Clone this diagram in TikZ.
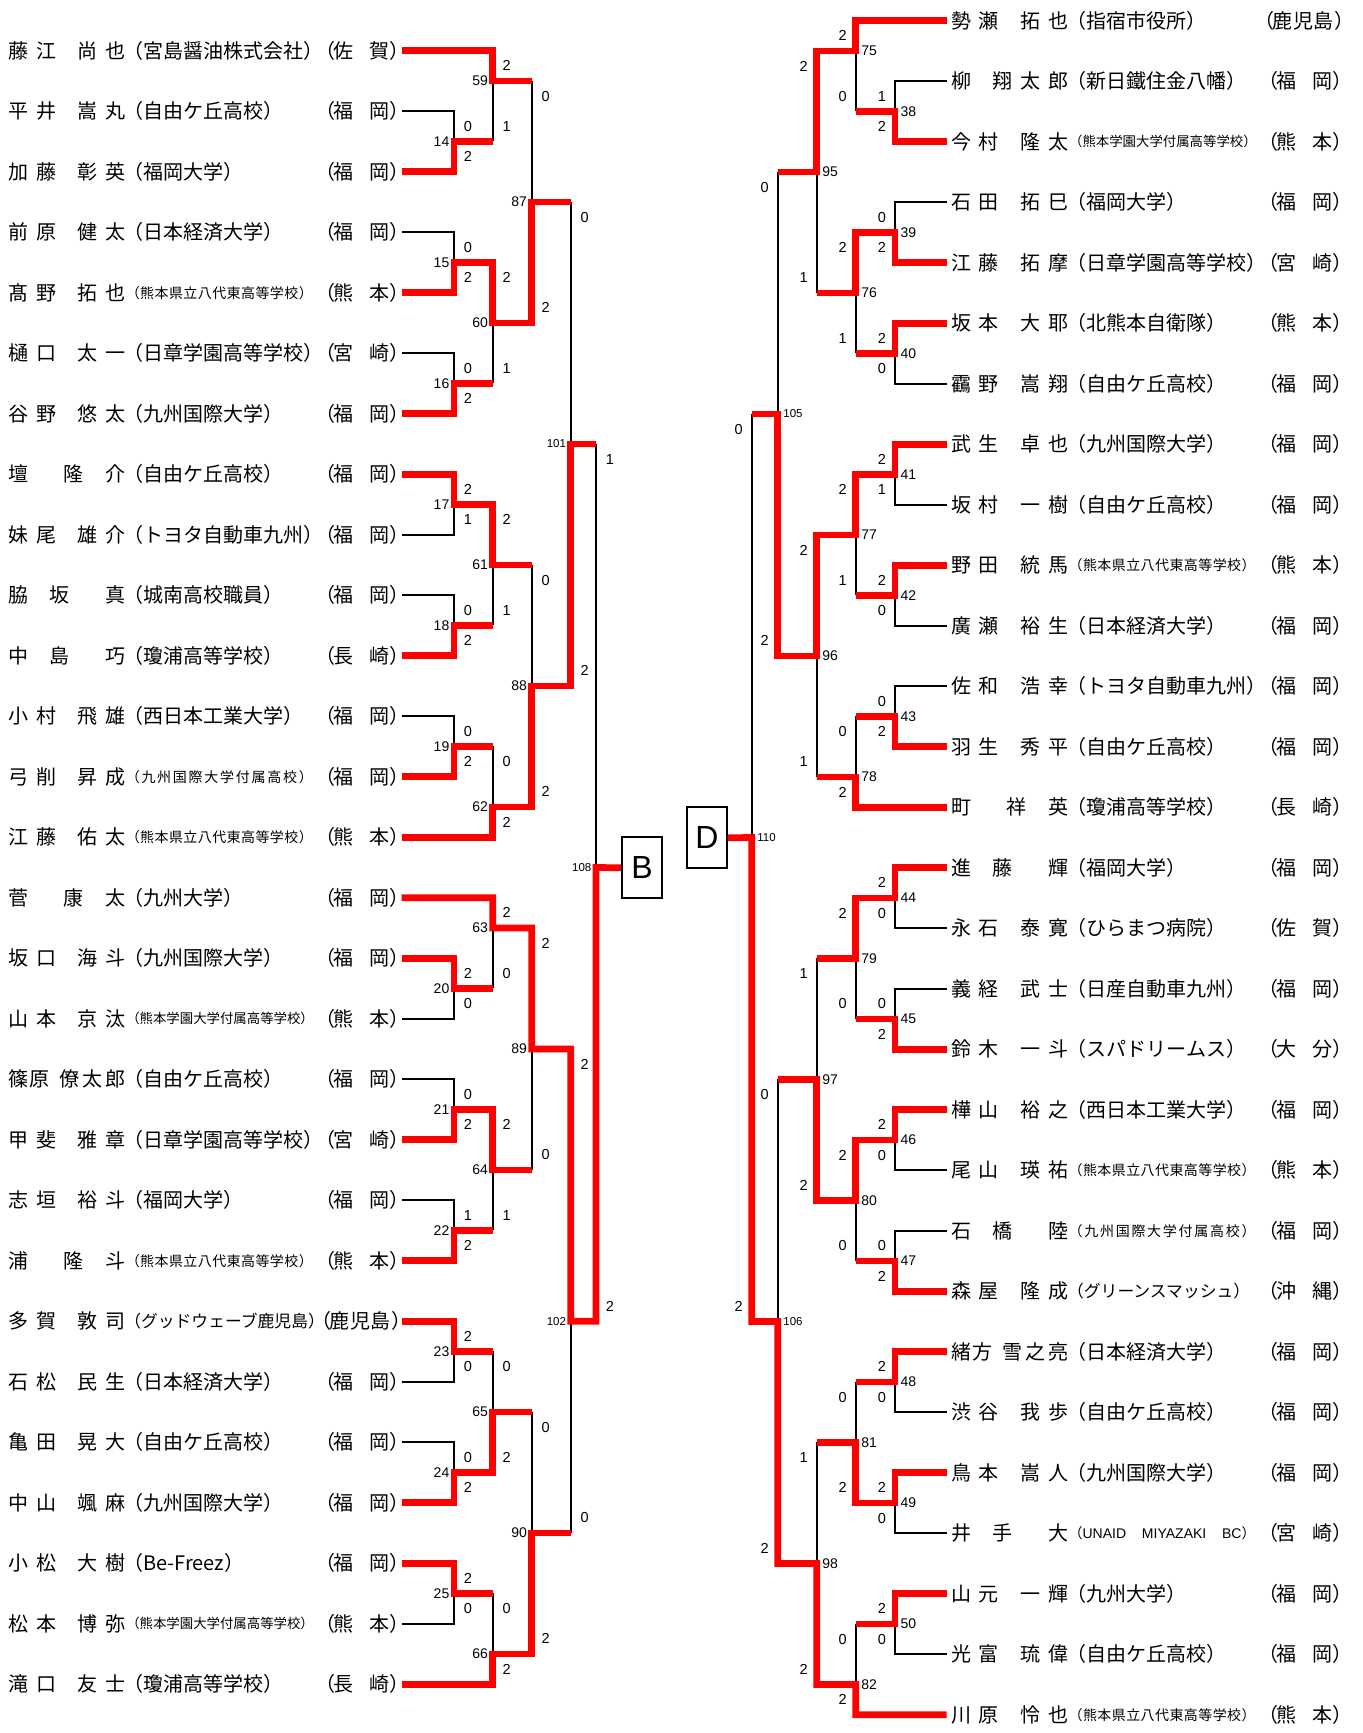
\documentclass[tikz,border=0pt]{standalone}
\usepackage{fontspec}
\setmainfont{Noto Sans CJK JP}
\newfontfamily\numfont{Liberation Sans}
\usetikzlibrary{positioning}

\newlength{\nmunit}\setlength{\nmunit}{13.86pt}
\newcommand{\yl}[1]{50.7+60.5*(#1)}
\newcommand{\yr}[1]{20.7+60.5*(#1)}
% name characters at fixed half-width steps
\newcommand{\ch}[2]{\rlap{\hskip#1\nmunit #2}}
\newcommand{\nm}[4]{\ch{0}{#1}\ch{2}{#2}\ch{5}{#3}\ch{7}{#4}}
\ExplSyntaxOn
\NewDocumentCommand{\spreadbox}{m m}{\makebox[#1][s]{\tl_map_inline:nn {#2}{##1\hfil}\unskip}}
\ExplSyntaxOff
\newcommand{\af}[1]{\rlap{\hskip115pt #1}}
\newcommand{\afm}[1]{\rlap{\hskip116pt\raisebox{1.1pt}{\fontsize{16.8}{17}\selectfont #1}}}
\newcommand{\afs}[1]{\rlap{\hskip117.5pt\raisebox{2.3pt}{\fontsize{14}{14}\selectfont\spreadbox{187pt}{#1}}}}
\newcommand{\aft}[1]{\rlap{\hskip118pt\raisebox{2.5pt}{\fontsize{13.4}{14}\selectfont\spreadbox{185pt}{#1}}}}
\newcommand{\afu}{\rlap{\hskip117.5pt\raisebox{2.3pt}{\fontsize{14}{14}\selectfont\makebox[187pt][s]{（{\numfont UNAID}\hfil{\numfont MIYAZAKI}\hfil{\numfont BC}）}}}}
\newcommand{\prf}[2]{\rlap{\hskip307pt（}\rlap{\hskip325pt #1}\rlap{\hskip361pt #2}\rlap{\hskip381pt）}}
\newcommand{\prfk}{\rlap{\hskip303pt（}\rlap{\hskip321.5pt 鹿}\rlap{\hskip342pt 児}\rlap{\hskip362.5pt 島}\rlap{\hskip383pt）}}
\newcommand{\lp}[3]{\hbox to 393.2pt{#1#2#3\hfil}}
\newcommand{\rp}[3]{\hbox to 412pt{\hskip4.2pt#1#2#3\hfil}}

\begin{document}
\begin{tikzpicture}[
    x=1pt, y=-1pt,
    win/.style={draw=red, line width=6.7pt, line join=miter},
    lose/.style={draw=black, line width=2.4pt},
    pl/.style={inner sep=0pt, font=\fontsize{20}{20}\selectfont, text height=17.6pt, text depth=2.4pt},
    score/.style={inner sep=0pt, font=\numfont\fontsize{14.5}{14.5}\selectfont},
    mlab/.style={inner sep=0pt, font=\numfont\fontsize{14}{14}\selectfont},
    mlabs/.style={inner sep=0pt, font=\numfont\fontsize{11.5}{11.5}\selectfont},
    blockbox/.style={draw, line width=2.2pt, minimum width=40pt, minimum height=61pt, inner sep=0pt, font=\numfont\fontsize{32}{32}\selectfont}
  ]
  \useasboundingbox (0,0) rectangle (1363,1733);

  % left players
  \node[pl, anchor=east] (pL0) at (401.7,{\yl{0}}) {\lp{\nm{藤}{江}{尚}{也}}{\af{（宮島醤油株式会社）}}{\prf{佐}{賀}}};
  \node[pl, anchor=east] (pL1) at (401.7,{\yl{1}}) {\lp{\nm{平}{井}{嵩}{丸}}{\af{（自由ケ丘高校）}}{\prf{福}{岡}}};
  \node[pl, anchor=east] (pL2) at (401.7,{\yl{2}}) {\lp{\nm{加}{藤}{彰}{英}}{\af{（福岡大学）}}{\prf{福}{岡}}};
  \node[pl, anchor=east] (pL3) at (401.7,{\yl{3}}) {\lp{\nm{前}{原}{健}{太}}{\af{（日本経済大学）}}{\prf{福}{岡}}};
  \node[pl, anchor=east] (pL4) at (401.7,{\yl{4}}) {\lp{\nm{髙}{野}{拓}{也}}{\afs{（熊本県立八代東高等学校）}}{\prf{熊}{本}}};
  \node[pl, anchor=east] (pL5) at (401.7,{\yl{5}}) {\lp{\nm{樋}{口}{太}{一}}{\af{（日章学園高等学校）}}{\prf{宮}{崎}}};
  \node[pl, anchor=east] (pL6) at (401.7,{\yl{6}}) {\lp{\nm{谷}{野}{悠}{太}}{\af{（九州国際大学）}}{\prf{福}{岡}}};
  \node[pl, anchor=east] (pL7) at (401.7,{\yl{7}}) {\lp{\ch{0}{壇}\ch{4}{隆}\ch{7}{介}}{\af{（自由ケ丘高校）}}{\prf{福}{岡}}};
  \node[pl, anchor=east] (pL8) at (401.7,{\yl{8}}) {\lp{\nm{妹}{尾}{雄}{介}}{\af{（トヨタ自動車九州）}}{\prf{福}{岡}}};
  \node[pl, anchor=east] (pL9) at (401.7,{\yl{9}}) {\lp{\ch{0}{脇}\ch{3}{坂}\ch{7}{真}}{\af{（城南高校職員）}}{\prf{福}{岡}}};
  \node[pl, anchor=east] (pL10) at (401.7,{\yl{10}}) {\lp{\ch{0}{中}\ch{3}{島}\ch{7}{巧}}{\af{（瓊浦高等学校）}}{\prf{長}{崎}}};
  \node[pl, anchor=east] (pL11) at (401.7,{\yl{11}}) {\lp{\nm{小}{村}{飛}{雄}}{\af{（西日本工業大学）}}{\prf{福}{岡}}};
  \node[pl, anchor=east] (pL12) at (401.7,{\yl{12}}) {\lp{\nm{弓}{削}{昇}{成}}{\afs{（九州国際大学付属高校）}}{\prf{福}{岡}}};
  \node[pl, anchor=east] (pL13) at (401.7,{\yl{13}}) {\lp{\nm{江}{藤}{佑}{太}}{\afs{（熊本県立八代東高等学校）}}{\prf{熊}{本}}};
  \node[pl, anchor=east] (pL14) at (401.7,{\yl{14}}) {\lp{\ch{0}{菅}\ch{4}{康}\ch{7}{太}}{\af{（九州大学）}}{\prf{福}{岡}}};
  \node[pl, anchor=east] (pL15) at (401.7,{\yl{15}}) {\lp{\nm{坂}{口}{海}{斗}}{\af{（九州国際大学）}}{\prf{福}{岡}}};
  \node[pl, anchor=east] (pL16) at (401.7,{\yl{16}}) {\lp{\nm{山}{本}{京}{汰}}{\aft{（熊本学園大学付属高等学校）}}{\prf{熊}{本}}};
  \node[pl, anchor=east] (pL17) at (401.7,{\yl{17}}) {\lp{\ch{0}{篠}\ch{1.55}{原}\ch{3.7}{僚}\ch{5.35}{太}\ch{7}{郎}}{\af{（自由ケ丘高校）}}{\prf{福}{岡}}};
  \node[pl, anchor=east] (pL18) at (401.7,{\yl{18}}) {\lp{\nm{甲}{斐}{雅}{章}}{\af{（日章学園高等学校）}}{\prf{宮}{崎}}};
  \node[pl, anchor=east] (pL19) at (401.7,{\yl{19}}) {\lp{\nm{志}{垣}{裕}{斗}}{\af{（福岡大学）}}{\prf{福}{岡}}};
  \node[pl, anchor=east] (pL20) at (401.7,{\yl{20}}) {\lp{\ch{0}{浦}\ch{4}{隆}\ch{7}{斗}}{\afs{（熊本県立八代東高等学校）}}{\prf{熊}{本}}};
  \node[pl, anchor=east] (pL21) at (401.7,{\yl{21}}) {\lp{\nm{多}{賀}{敦}{司}}{\afm{（グッドウェーブ鹿児島）}}{\prfk}};
  \node[pl, anchor=east] (pL22) at (401.7,{\yl{22}}) {\lp{\nm{石}{松}{民}{生}}{\af{（日本経済大学）}}{\prf{福}{岡}}};
  \node[pl, anchor=east] (pL23) at (401.7,{\yl{23}}) {\lp{\nm{亀}{田}{晃}{大}}{\af{（自由ケ丘高校）}}{\prf{福}{岡}}};
  \node[pl, anchor=east] (pL24) at (401.7,{\yl{24}}) {\lp{\nm{中}{山}{颯}{麻}}{\af{（九州国際大学）}}{\prf{福}{岡}}};
  \node[pl, anchor=east] (pL25) at (401.7,{\yl{25}}) {\lp{\nm{小}{松}{大}{樹}}{\af{（Be-Freez）}}{\prf{福}{岡}}};
  \node[pl, anchor=east] (pL26) at (401.7,{\yl{26}}) {\lp{\nm{松}{本}{博}{弥}}{\aft{（熊本学園大学付属高等学校）}}{\prf{熊}{本}}};
  \node[pl, anchor=east] (pL27) at (401.7,{\yl{27}}) {\lp{\nm{滝}{口}{友}{士}}{\af{（瓊浦高等学校）}}{\prf{長}{崎}}};

  % right players
  \node[pl, anchor=west] (pR0) at (946.7,{\yr{0}}) {\rp{\nm{勢}{瀬}{拓}{也}}{\af{（指宿市役所）}}{\prfk}};
  \node[pl, anchor=west] (pR1) at (946.7,{\yr{1}}) {\rp{\ch{0}{柳}\ch{3}{翔}\ch{5}{太}\ch{7}{郎}}{\af{（新日鐵住金八幡）}}{\prf{福}{岡}}};
  \node[pl, anchor=west] (pR2) at (946.7,{\yr{2}}) {\rp{\nm{今}{村}{隆}{太}}{\aft{（熊本学園大学付属高等学校）}}{\prf{熊}{本}}};
  \node[pl, anchor=west] (pR3) at (946.7,{\yr{3}}) {\rp{\nm{石}{田}{拓}{巳}}{\af{（福岡大学）}}{\prf{福}{岡}}};
  \node[pl, anchor=west] (pR4) at (946.7,{\yr{4}}) {\rp{\nm{江}{藤}{拓}{摩}}{\af{（日章学園高等学校）}}{\prf{宮}{崎}}};
  \node[pl, anchor=west] (pR5) at (946.7,{\yr{5}}) {\rp{\nm{坂}{本}{大}{耶}}{\af{（北熊本自衛隊）}}{\prf{熊}{本}}};
  \node[pl, anchor=west] (pR6) at (946.7,{\yr{6}}) {\rp{\nm{靍}{野}{嵩}{翔}}{\af{（自由ケ丘高校）}}{\prf{福}{岡}}};
  \node[pl, anchor=west] (pR7) at (946.7,{\yr{7}}) {\rp{\nm{武}{生}{卓}{也}}{\af{（九州国際大学）}}{\prf{福}{岡}}};
  \node[pl, anchor=west] (pR8) at (946.7,{\yr{8}}) {\rp{\nm{坂}{村}{一}{樹}}{\af{（自由ケ丘高校）}}{\prf{福}{岡}}};
  \node[pl, anchor=west] (pR9) at (946.7,{\yr{9}}) {\rp{\nm{野}{田}{統}{馬}}{\afs{（熊本県立八代東高等学校）}}{\prf{熊}{本}}};
  \node[pl, anchor=west] (pR10) at (946.7,{\yr{10}}) {\rp{\nm{廣}{瀬}{裕}{生}}{\af{（日本経済大学）}}{\prf{福}{岡}}};
  \node[pl, anchor=west] (pR11) at (946.7,{\yr{11}}) {\rp{\nm{佐}{和}{浩}{幸}}{\af{（トヨタ自動車九州）}}{\prf{福}{岡}}};
  \node[pl, anchor=west] (pR12) at (946.7,{\yr{12}}) {\rp{\nm{羽}{生}{秀}{平}}{\af{（自由ケ丘高校）}}{\prf{福}{岡}}};
  \node[pl, anchor=west] (pR13) at (946.7,{\yr{13}}) {\rp{\ch{0}{町}\ch{4}{祥}\ch{7}{英}}{\af{（瓊浦高等学校）}}{\prf{長}{崎}}};
  \node[pl, anchor=west] (pR14) at (946.7,{\yr{14}}) {\rp{\ch{0}{進}\ch{3}{藤}\ch{7}{輝}}{\af{（福岡大学）}}{\prf{福}{岡}}};
  \node[pl, anchor=west] (pR15) at (946.7,{\yr{15}}) {\rp{\nm{永}{石}{泰}{寛}}{\af{（ひらまつ病院）}}{\prf{佐}{賀}}};
  \node[pl, anchor=west] (pR16) at (946.7,{\yr{16}}) {\rp{\nm{義}{経}{武}{士}}{\af{（日産自動車九州）}}{\prf{福}{岡}}};
  \node[pl, anchor=west] (pR17) at (946.7,{\yr{17}}) {\rp{\nm{鈴}{木}{一}{斗}}{\af{（スパドリームス）}}{\prf{大}{分}}};
  \node[pl, anchor=west] (pR18) at (946.7,{\yr{18}}) {\rp{\nm{樺}{山}{裕}{之}}{\af{（西日本工業大学）}}{\prf{福}{岡}}};
  \node[pl, anchor=west] (pR19) at (946.7,{\yr{19}}) {\rp{\nm{尾}{山}{瑛}{祐}}{\afs{（熊本県立八代東高等学校）}}{\prf{熊}{本}}};
  \node[pl, anchor=west] (pR20) at (946.7,{\yr{20}}) {\rp{\ch{0}{石}\ch{3}{橋}\ch{7}{陸}}{\afs{（九州国際大学付属高校）}}{\prf{福}{岡}}};
  \node[pl, anchor=west] (pR21) at (946.7,{\yr{21}}) {\rp{\nm{森}{屋}{隆}{成}}{\afm{（グリーンスマッシュ）}}{\prf{沖}{縄}}};
  \node[pl, anchor=west] (pR22) at (946.7,{\yr{22}}) {\rp{\ch{0}{緒}\ch{1.55}{方}\ch{3.7}{雪}\ch{5.35}{之}\ch{7}{亮}}{\af{（日本経済大学）}}{\prf{福}{岡}}};
  \node[pl, anchor=west] (pR23) at (946.7,{\yr{23}}) {\rp{\nm{渋}{谷}{我}{歩}}{\af{（自由ケ丘高校）}}{\prf{福}{岡}}};
  \node[pl, anchor=west] (pR24) at (946.7,{\yr{24}}) {\rp{\nm{鳥}{本}{嵩}{人}}{\af{（九州国際大学）}}{\prf{福}{岡}}};
  \node[pl, anchor=west] (pR25) at (946.7,{\yr{25}}) {\rp{\ch{0}{井}\ch{3}{手}\ch{7}{大}}{\afu}{\prf{宮}{崎}}};
  \node[pl, anchor=west] (pR26) at (946.7,{\yr{26}}) {\rp{\nm{山}{元}{一}{輝}}{\af{（九州大学）}}{\prf{福}{岡}}};
  \node[pl, anchor=west] (pR27) at (946.7,{\yr{27}}) {\rp{\nm{光}{富}{琉}{偉}}{\af{（自由ケ丘高校）}}{\prf{福}{岡}}};
  \node[pl, anchor=west] (pR28) at (946.7,{\yr{28}}) {\rp{\nm{川}{原}{怜}{也}}{\afs{（熊本県立八代東高等学校）}}{\prf{熊}{本}}};

  % block boxes
  \node[blockbox] (bxB) at (642,867.8) {B};
  \node[blockbox] (bxD) at (707,837.8) {D};

  % match junctions and numbers
  \foreach \m/\x/\r in {14/454/1.5,15/454/3.5,16/454/5.5,17/454/7.5,18/454/9.5,19/454/11.5,20/454/15.5,21/454/17.5,22/454/19.5,23/454/21.5,24/454/23.5,25/454/25.5,
      59/492.7/0.5,60/492.7/4.5,61/492.7/8.5,62/492.7/12.5,63/492.7/14.5,64/492.7/18.5,65/492.7/22.5,66/492.7/26.5,
      87/531.7/2.5,88/531.7/10.5,89/531.7/16.5,90/531.7/24.5,101/570.7/6.5,102/570.7/21,108/596/13.5} {
    \coordinate (m\m) at (\x,{\yl{\r}});
    \ifnum\m>99 \def\lf{mlabs}\else\def\lf{mlab}\fi
    \node[\lf, anchor=east] (n\m) at ([xshift=-4.5pt]m\m) {\m};
  }
  \foreach \m/\x/\r in {38/895/1.5,39/895/3.5,40/895/5.5,41/895/7.5,42/895/9.5,43/895/11.5,44/895/14.5,45/895/16.5,46/895/18.5,47/895/20.5,48/895/22.5,49/895/24.5,50/895/26.5,
      75/855.7/0.5,76/855.7/4.5,77/855.7/8.5,78/855.7/12.5,79/855.7/15.5,80/855.7/19.5,81/855.7/23.5,82/855.7/27.5,
      95/816.7/2.5,96/816.7/10.5,97/816.7/17.5,98/816.7/25.5,105/777.7/6.5,106/777.7/21.5,110/751.7/13.5} {
    \coordinate (m\m) at (\x,{\yr{\r}});
    \ifnum\m>99 \def\lf{mlabs}\else\def\lf{mlab}\fi
    \node[\lf, anchor=west] (n\m) at ([xshift=5.5pt]m\m) {\m};
  }

  % scores
  \foreach \x/\ta/\tb/\sa/\sb [count=\i] in {454/1/2/0/2,454/3/4/0/2,454/5/6/0/2,454/7/8/2/1,454/9/10/0/2,454/11/12/0/2,454/15/16/2/0,454/17/18/0/2,454/19/20/1/2,454/21/22/2/0,454/23/24/0/2,454/25/26/2/0,
      492.7/0/1.5/2/1,492.7/3.5/5.5/2/1,492.7/7.5/9.5/2/1,492.7/11.5/13/0/2,492.7/14/15.5/2/0,492.7/17.5/19.5/2/1,492.7/21.5/23.5/0/2,492.7/25.5/27/0/2,
      531.7/0.5/4.5/0/2,531.7/8.5/12.5/0/2,531.7/14.5/18.5/2/0,531.7/22.5/26.5/0/2,570.7/2.5/10.5/0/2,570.7/16.5/24.5/2/0,596/6.5/21/1/2} {
    \node[score] (sLa\i) at ({\x+14},{\yl{\ta+0.25}}) {\sa};
    \node[score] (sLb\i) at ({\x+14},{\yl{\tb-0.25}}) {\sb};
  }
  \foreach \x/\ta/\tb/\sa/\sb [count=\i] in {895/1/2/1/2,895/3/4/0/2,895/5/6/2/0,895/7/8/2/1,895/9/10/2/0,895/11/12/0/2,895/14/15/2/0,895/16/17/0/2,895/18/19/2/0,895/20/21/0/2,895/22/23/2/0,895/24/25/2/0,895/26/27/2/0,
      855.7/0/1.5/2/0,855.7/3.5/5.5/2/1,855.7/7.5/9.5/2/1,855.7/11.5/13/0/2,855.7/14.5/16.5/2/0,855.7/18.5/20.5/2/0,855.7/22.5/24.5/0/2,855.7/26.5/28/0/2,
      816.7/0.5/4.5/2/1,816.7/8.5/12.5/2/1,816.7/15.5/19.5/1/2,816.7/23.5/27.5/1/2,777.7/2.5/10.5/0/2,777.7/17.5/25.5/0/2,751.7/6.5/21.5/0/2} {
    \node[score] (sRa\i) at ({\x-13},{\yr{\ta+0.25}}) {\sa};
    \node[score] (sRb\i) at ({\x-13},{\yr{\tb-0.25}}) {\sb};
  }

  % losers
  \foreach \p/\m in {pL1/m14,pL3/m15,pL5/m16,pL8/m17,pL9/m18,pL11/m19,pL16/m20,pL17/m21,pL19/m22,pL22/m23,pL23/m24,pL26/m25}
    \draw[lose] (\p.east) -| (\m);
  \foreach \p/\m in {pR1/m38,pR3/m39,pR6/m40,pR8/m41,pR10/m42,pR11/m43,pR15/m44,pR16/m45,pR19/m46,pR20/m47,pR23/m48,pR25/m49,pR27/m50}
    \draw[lose] (\p.west) -| (\m);
  \foreach \a/\m in {m14/m59,m16/m60,m18/m61,m19/m62,m20/m63,m22/m64,m23/m65,m25/m66,m59/m87,m61/m88,m64/m89,m65/m90,m87/m101,m90/m102,m101/m108,
      m38/m75,m40/m76,m42/m77,m43/m78,m45/m79,m47/m80,m48/m81,m50/m82,m76/m95,m78/m96,m79/m97,m81/m98,m95/m105,m97/m106,m105/m110}
    \draw[lose] (\a -| \m) -- (\m);

  % winners, left
  \draw[win] (pL0.east) -| (m59) -- (m59 -| m87);
  \draw[win] (pL2.east) -| (m14) -- (m14 -| m59);
  \draw[win] (pL4.east) -| (m15) -| (m60) -| (m87) -- (m87 -| m101);
  \draw[win] (pL6.east) -| (m16) -- (m16 -| m60);
  \draw[win] (pL7.east) -| (m17) -| (m61) -- (m61 -| m88);
  \draw[win] (pL10.east) -| (m18) -- (m18 -| m61);
  \draw[win] (pL12.east) -| (m19) -- (m19 -| m62);
  \draw[win] (pL13.east) -| (m62) -| (m88) -| (m101) -- (m101 -| m108);
  \draw[win] (pL14.east) -| (m63) -| (m89) -| (m102) -| (m108) -- (bxB.west);
  \draw[win] (pL15.east) -| (m20) -- (m20 -| m63);
  \draw[win] (pL18.east) -| (m21) -| (m64) -- (m64 -| m89);
  \draw[win] (pL20.east) -| (m22) -- (m22 -| m64);
  \draw[win] (pL21.east) -| (m23) -- (m23 -| m65);
  \draw[win] (pL24.east) -| (m24) -| (m65) -- (m65 -| m90);
  \draw[win] (pL25.east) -| (m25) -- (m25 -| m66);
  \draw[win] (pL27.east) -| (m66) -| (m90) -- (m90 -| m102);

  % winners, right
  \draw[win] (pR0.west) -| (m75) -| (m95) -- (m95 -| m105);
  \draw[win] (pR2.west) -| (m38) -- (m38 -| m75);
  \draw[win] (pR4.west) -| (m39) -| (m76) -- (m76 -| m95);
  \draw[win] (pR5.west) -| (m40) -- (m40 -| m76);
  \draw[win] (pR7.west) -| (m41) -| (m77) -| (m96) -| (m105) -- (m105 -| m110);
  \draw[win] (pR9.west) -| (m42) -- (m42 -| m77);
  \draw[win] (pR12.west) -| (m43) -- (m43 -| m78);
  \draw[win] (pR13.west) -| (m78) -- (m78 -| m96);
  \draw[win] (pR14.west) -| (m44) -| (m79) -- (m79 -| m97);
  \draw[win] (pR17.west) -| (m45) -- (m45 -| m79);
  \draw[win] (pR18.west) -| (m46) -| (m80) -| (m97) -- (m97 -| m106);
  \draw[win] (pR21.west) -| (m47) -- (m47 -| m80);
  \draw[win] (pR22.west) -| (m48) -- (m48 -| m81);
  \draw[win] (pR24.west) -| (m49) -| (m81) -- (m81 -| m98);
  \draw[win] (pR26.west) -| (m50) -- (m50 -| m82);
  \draw[win] (pR28.west) -| (m82) -| (m98) -| (m106) -| (m110) -- (bxD.east);
\end{tikzpicture}
\end{document}
